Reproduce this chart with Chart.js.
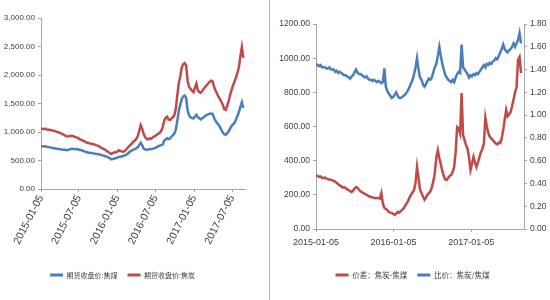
<!DOCTYPE html>
<html><head><meta charset="utf-8">
<script src="https://cdn.jsdelivr.net/npm/chart.js@4"></script>
<style>
html,body{margin:0;padding:0;background:#fff;}
#wrap{position:relative;width:550px;height:300px;overflow:hidden;background:#fff}
#left{position:absolute;left:0;top:0;width:269px;height:300px;border-right:1px solid #b4b4b4}
#right{position:absolute;left:275px;top:0;width:275px;height:300px}
canvas{display:block}
</style></head><body>
<div id="wrap">
<div id="left"><canvas id="c1" width="269" height="300"></canvas></div>
<div id="right"><canvas id="c2" width="275" height="300"></canvas></div>
</div>
<script>
// ---- data (weekly observations starting at startDate) ----
const startDate = '2015-01-05';
const stepDays = 7;

const leftNames = ['期货收盘价:焦煤', '期货收盘价:焦炭'];
const rightNames = ['价差：焦炭-焦煤', '比价：焦炭/焦煤'];

const leftTickDates = ['2015-01-05','2015-07-05','2016-01-05','2016-07-05','2017-01-05','2017-07-05'];
const rightTickDates = ['2015-01-05','2016-01-05','2017-01-05'];

const cokingCoal = [
750,748,745,750,740,735,730,725,720,715,
710,705,700,698,695,690,688,685,680,690,
700,705,700,702,698,700,690,685,675,665,
655,648,640,635,632,630,625,620,615,610,
605,598,590,582,575,565,555,540,520,525,
535,540,550,560,565,570,580,590,600,615,
640,660,675,690,700,715,735,770,810,770,
710,695,690,692,698,700,705,712,720,735,
750,760,770,780,850,870,890,880,885,920,
945,975,1050,1200,1380,1480,1580,1620,1640,1600,
1380,1290,1260,1245,1240,1270,1300,1260,1240,1220,
1240,1260,1280,1300,1310,1320,1325,1320,1250,1200,
1160,1130,1090,1040,990,960,950,980,1010,1060,
1110,1130,1160,1220,1280,1350,1440,1520,1420
];
const coke = [
1060,1055,1050,1058,1045,1040,1040,1030,1025,1020,
1010,1000,995,985,970,960,945,930,920,925,
935,930,930,915,905,900,880,865,855,845,
830,815,810,800,795,790,785,775,765,760,
740,725,710,700,685,665,650,625,615,630,
645,640,655,680,670,660,655,665,690,720,
750,775,800,830,850,880,930,1020,1120,1060,
970,910,880,870,890,880,900,920,930,950,
970,985,1020,1080,1200,1250,1270,1220,1210,1240,
1260,1300,1420,1650,1860,1980,2130,2190,2210,2170,
1900,1790,1760,1720,1700,1780,1850,1730,1700,1690,
1720,1760,1790,1820,1850,1880,1900,1890,1800,1730,
1680,1620,1580,1530,1480,1400,1390,1460,1540,1650,
1740,1820,1880,1960,2040,2140,2330,2490,2300
];
const spread = [
316,310,305,308,300,298,302,295,292,290,
288,285,282,275,270,262,255,250,242,245,
238,232,228,222,217,225,238,246,240,230,
220,215,210,205,200,195,190,187,185,183,
180,182,181,178,210,150,123,118,110,100,
96,94,88,82,90,100,95,105,112,120,
135,150,165,185,200,215,228,270,363,300,
230,210,190,172,185,200,210,220,245,280,
330,420,462,416,380,340,310,290,287,300,
310,316,335,363,450,597,590,560,796,550,
520,490,470,420,345,380,421,390,363,390,
420,450,470,500,650,600,560,540,530,521,
510,500,495,505,503,530,580,640,697,660,
670,685,720,760,800,831,989,1007,913
];
const ratio = [
1.45,1.44,1.43,1.44,1.42,1.42,1.42,1.41,1.41,1.42,
1.40,1.40,1.40,1.38,1.39,1.37,1.38,1.37,1.36,1.35,
1.35,1.34,1.33,1.32,1.34,1.35,1.38,1.40,1.37,1.36,
1.36,1.35,1.34,1.33,1.34,1.32,1.31,1.31,1.30,1.31,
1.30,1.29,1.30,1.29,1.28,1.29,1.41,1.25,1.21,1.19,
1.17,1.15,1.16,1.18,1.20,1.17,1.15,1.15,1.16,1.17,
1.18,1.20,1.22,1.25,1.28,1.31,1.36,1.42,1.50,1.40,
1.33,1.31,1.27,1.25,1.27,1.30,1.32,1.31,1.33,1.38,
1.42,1.45,1.52,1.60,1.52,1.45,1.40,1.35,1.33,1.31,
1.30,1.29,1.31,1.29,1.33,1.36,1.38,1.37,1.62,1.42,
1.40,1.38,1.36,1.33,1.35,1.34,1.36,1.35,1.37,1.36,
1.38,1.40,1.42,1.44,1.42,1.45,1.44,1.46,1.45,1.47,
1.48,1.50,1.49,1.52,1.55,1.58,1.62,1.58,1.56,1.55,
1.57,1.58,1.60,1.63,1.60,1.63,1.66,1.72,1.63
];

// ---- helpers ----
const BLUE = '#4a7ebb', RED = '#be4b48';
const TXT = '#404040', AX = '#a6a6a6';
const NUMFONT = "'Liberation Sans Narrow','Arial Narrow','Liberation Sans',sans-serif";
const CJK = "'Noto Sans CJK SC','Noto Sans',sans-serif";
const dayOf = d => Math.round((Date.parse(d) - Date.parse(startDate)) / 864e5);
const pts = arr => arr.map((v, i) => ({x: i * stepDays, y: v}));
const labelFor = list => v => { const f = list.find(d => dayOf(d) === v); return f || ''; };
const legendLabels = (size, pad) => ({
  boxWidth: 13, boxHeight: 3, padding: pad, color: TXT,
  font: {family: CJK, size: size},
  generateLabels(chart) {
    const items = Chart.defaults.plugins.legend.labels.generateLabels(chart);
    items.forEach(it => { it.lineWidth = 0; it.strokeStyle = 'rgba(0,0,0,0)'; });
    return items;
  }
});
const axisGrid = {drawOnChartArea: false, drawTicks: true, tickLength: 3, color: AX};

// ---- left chart ----
new Chart(document.getElementById('c1'), {
  type: 'line',
  data: {datasets: [
    {label: leftNames[0], data: pts(cokingCoal), borderColor: BLUE, backgroundColor: BLUE},
    {label: leftNames[1], data: pts(coke), borderColor: RED, backgroundColor: RED}
  ]},
  options: {
    responsive: false, animation: false,
    layout: {padding: {left: 0, right: 24, top: 18, bottom: 11.5}},
    elements: {point: {radius: 0}, line: {borderWidth: 2.5, tension: 0}},
    plugins: {legend: {position: 'bottom', labels: legendLabels(7, 10)}, tooltip: {enabled: false}},
    scales: {
      x: {
        type: 'linear', min: 0, max: 974,
        afterBuildTicks: s => { s.ticks = leftTickDates.map(d => ({value: dayOf(d)})); },
        afterFit: s => { s.height = 72.5; },
        ticks: {autoSkip: false, minRotation: 63, maxRotation: 63, padding: 1, color: TXT,
                font: {family: NUMFONT, size: 10.5}, callback: labelFor(leftTickDates)},
        grid: axisGrid, border: {color: AX}
      },
      y: {
        min: 0, max: 3000,
        afterFit: s => { s.width = 41; },
        ticks: {stepSize: 500, padding: 3, color: TXT, font: {family: NUMFONT, size: 8},
                callback: v => v.toLocaleString('en-US', {minimumFractionDigits: 2, maximumFractionDigits: 2})},
        grid: axisGrid, border: {color: AX}
      }
    }
  }
});

// ---- right chart ----
new Chart(document.getElementById('c2'), {
  type: 'line',
  data: {datasets: [
    {label: rightNames[0], data: pts(spread), borderColor: RED, backgroundColor: RED, yAxisID: 'y'},
    {label: rightNames[1], data: pts(ratio), borderColor: BLUE, backgroundColor: BLUE, yAxisID: 'y2'}
  ]},
  options: {
    responsive: false, animation: false,
    layout: {padding: {left: 0, right: 0, top: 24, bottom: 11.25}},
    elements: {point: {radius: 0}, line: {borderWidth: 2.5, tension: 0}},
    plugins: {legend: {position: 'bottom', labels: legendLabels(7.5, 10)}, tooltip: {enabled: false}},
    scales: {
      x: {
        type: 'linear', min: 0, max: 980,
        afterBuildTicks: s => { s.ticks = rightTickDates.map(d => ({value: dayOf(d)})); },
        afterFit: s => { s.height = 32.25; },
        ticks: {autoSkip: false, minRotation: 0, maxRotation: 0, padding: 5, color: TXT,
                font: {family: NUMFONT, size: 9}, callback: labelFor(rightTickDates)},
        grid: axisGrid, border: {color: AX}
      },
      y: {
        position: 'left', min: 0, max: 1200,
        afterFit: s => { s.width = 41; },
        ticks: {stepSize: 200, padding: 3, color: TXT, font: {family: NUMFONT, size: 8.5},
                callback: v => v.toFixed(2)},
        grid: axisGrid, border: {color: AX}
      },
      y2: {
        position: 'right', min: 0, max: 1.8,
        afterFit: s => { s.width = 26; },
        ticks: {stepSize: 0.2, padding: 3, color: TXT, font: {family: NUMFONT, size: 8.5},
                callback: v => v.toFixed(2)},
        grid: axisGrid, border: {color: AX}
      }
    }
  }
});
</script>
</body></html>
